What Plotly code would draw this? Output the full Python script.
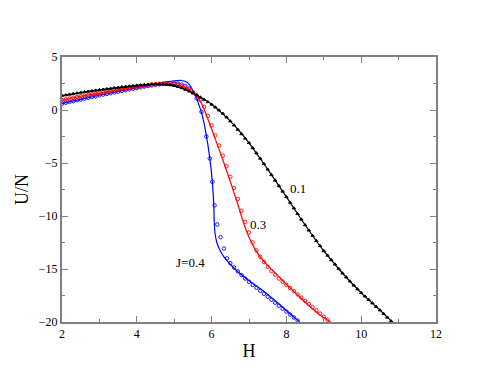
import plotly.graph_objects as go

# J = 0.1 (black)
h_line_01 = [2.0, 2.5, 3.0, 3.5, 4.0, 4.5, 5.0, 5.5, 6.0, 6.5, 7.0, 7.5, 8.0, 8.5, 9.0, 9.5, 10.0, 10.5, 10.83]
u_line_01 = [1.35, 1.65, 1.9, 2.12, 2.32, 2.45, 2.3, 1.6, 0.55, -1.05, -3.1, -5.6, -8.2, -10.85, -13.3, -15.4, -17.25, -18.88, -20.0]

h_pts_01 = [2.0, 2.1, 2.2, 2.3, 2.4, 2.5, 2.6, 2.7, 2.8, 2.9, 3.0, 3.1, 3.2, 3.3, 3.4, 3.5, 3.6, 3.7, 3.8, 3.9,
            4.0, 4.1, 4.2, 4.3, 4.4, 4.5, 4.6, 4.7, 4.8, 4.9, 5.0, 5.1, 5.2, 5.3, 5.4, 5.5, 5.6, 5.7, 5.8, 5.9,
            6.0, 6.1, 6.2, 6.3, 6.4, 6.5, 6.6, 6.7, 6.8, 6.9, 7.0, 7.1, 7.2, 7.3, 7.4, 7.5, 7.6, 7.7, 7.8, 7.9,
            8.0, 8.1, 8.2, 8.3, 8.4, 8.5, 8.6, 8.7, 8.8, 8.9, 9.0, 9.1, 9.2, 9.3, 9.4, 9.5, 9.6, 9.7, 9.8, 9.9,
            10.0, 10.1, 10.2, 10.3, 10.4, 10.5, 10.6, 10.7, 10.8]
u_pts_01 = [1.35, 1.41, 1.47, 1.53, 1.59, 1.65, 1.70, 1.75, 1.80, 1.85, 1.90, 1.94, 1.99, 2.03, 2.08, 2.12, 2.16, 2.20, 2.24, 2.28,
            2.32, 2.35, 2.38, 2.41, 2.43, 2.44, 2.44, 2.42, 2.39, 2.35, 2.29, 2.20, 2.08, 1.93, 1.77, 1.60, 1.41, 1.20, 0.98, 0.76,
            0.53, 0.26, -0.02, -0.33, -0.68, -1.05, -1.44, -1.85, -2.26, -2.68, -3.10, -3.58, -4.07, -4.57, -5.08, -5.60, -6.12, -6.64, -7.16, -7.68,
            -8.20, -8.73, -9.26, -9.79, -10.32, -10.85, -11.35, -11.85, -12.34, -12.82, -13.30, -13.72, -14.14, -14.56, -14.98, -15.40, -15.78, -16.16, -16.54, -16.90,
            -17.25, -17.58, -17.90, -18.22, -18.55, -18.88, -19.22, -19.57, -19.92]

# J = 0.3 (red)
h_line_03 = [2.0, 2.5, 3.0, 3.5, 4.0, 4.5, 4.8, 5.0, 5.3, 5.5, 5.6, 5.7, 5.8, 5.9, 6.0, 6.1, 6.3, 6.5, 6.7, 6.85,
             7.0, 7.15, 7.3, 7.5, 7.75, 8.0, 8.3, 8.6, 8.9, 9.18]
u_line_03 = [0.94, 1.3, 1.6, 1.9, 2.2, 2.45, 2.52, 2.45, 2.1, 1.65, 1.35, 0.8, 0.05, -0.85, -1.8, -2.75, -4.7, -6.75, -8.9, -10.6,
             -12.0, -13.05, -13.85, -14.65, -15.55, -16.45, -17.45, -18.45, -19.35, -20.0]

h_pts_03 = [2.0, 2.1, 2.2, 2.3, 2.4, 2.5, 2.6, 2.7, 2.8, 2.9, 3.0, 3.1, 3.2, 3.3, 3.4, 3.5, 3.6, 3.7, 3.8, 3.9,
            4.0, 4.1, 4.2, 4.3, 4.4, 4.5, 4.6, 4.7, 4.8, 4.9, 5.0, 5.1, 5.2, 5.3, 5.4, 5.5, 5.6, 5.7, 5.8, 5.9,
            6.0, 6.1, 6.2, 6.3, 6.4, 6.5, 6.6, 6.7, 6.8, 6.9, 7.0, 7.1, 7.2, 7.3, 7.4, 7.5, 7.6, 7.7, 7.8, 7.9,
            8.0, 8.1, 8.2, 8.3, 8.4, 8.5, 8.6, 8.7, 8.8, 8.9, 9.0, 9.1]
u_pts_03 = [0.94, 1.01, 1.09, 1.16, 1.23, 1.30, 1.36, 1.42, 1.48, 1.54, 1.60, 1.66, 1.72, 1.78, 1.84, 1.90, 1.96, 2.02, 2.08, 2.14,
            2.20, 2.25, 2.30, 2.35, 2.40, 2.44, 2.47, 2.49, 2.50, 2.48, 2.44, 2.36, 2.25, 2.10, 1.90, 1.66, 1.38, 0.95, 0.30, -0.55,
            -1.45, -2.40, -3.35, -4.30, -5.30, -6.30, -7.35, -8.40, -9.50, -10.55, -11.55, -12.50, -13.25, -13.85, -14.35, -14.80, -15.20, -15.55, -15.90, -16.20,
            -16.50, -16.80, -17.10, -17.40, -17.70, -18.00, -18.30, -18.60, -18.90, -19.20, -19.50, -19.80]

# J = 0.4 (blue)
h_line_04 = [2.0, 2.5, 3.0, 3.5, 4.0, 4.5, 4.8, 5.0, 5.2, 5.35, 5.45, 5.55, 5.65, 5.75, 5.85, 5.95, 6.02, 6.06, 6.07, 6.09,
             6.14, 6.22, 6.34, 6.65, 7.0, 7.36, 7.8, 8.35]
u_line_04 = [0.63, 1.0, 1.4, 1.75, 2.1, 2.45, 2.65, 2.75, 2.78, 2.6, 2.15, 1.5, 0.6, -0.5, -2.2, -4.5, -6.8, -9.1, -10.5, -11.6,
             -12.5, -13.2, -13.9, -15.1, -16.1, -17.0, -18.3, -20.0]

h_pts_04 = [2.0, 2.1, 2.2, 2.3, 2.4, 2.5, 2.6, 2.7, 2.8, 2.9, 3.0, 3.1, 3.2, 3.3, 3.4, 3.5, 3.6, 3.7, 3.8, 3.9,
            4.0, 4.1, 4.2, 4.3, 4.4, 4.5, 4.6, 4.7, 4.8, 4.9, 5.0, 5.1, 5.2, 5.3, 5.4, 5.5,
            5.6, 5.73, 5.86, 5.95, 6.02, 6.08, 6.15, 6.24, 6.33, 6.41,
            6.5, 6.6, 6.7, 6.8, 6.9, 7.0, 7.1, 7.2, 7.3, 7.4, 7.5, 7.6, 7.7, 7.8, 7.9, 8.0, 8.1, 8.2, 8.3]
u_pts_04 = [0.60, 0.68, 0.76, 0.84, 0.92, 0.99, 1.07, 1.15, 1.23, 1.30, 1.38, 1.45, 1.52, 1.59, 1.66, 1.73, 1.80, 1.87, 1.94, 2.01,
            2.08, 2.14, 2.20, 2.26, 2.32, 2.37, 2.42, 2.46, 2.49, 2.51, 2.51, 2.48, 2.40, 2.25, 2.02, 1.65,
            1.1, -0.17, -2.5, -4.57, -6.77, -9.0, -10.8, -12.0, -13.07, -14.0,
            -14.45, -14.85, -15.22, -15.57, -15.9, -16.2, -16.5, -16.78, -17.06, -17.34, -17.62, -17.9, -18.18, -18.46, -18.74, -19.02, -19.3, -19.58, -19.86]

label_text = ["0.1", "0.3", "J=0.4"]
label_h = [8.31, 7.25, 5.43]
label_u = [-7.37, -10.77, -14.36]

serif = "'Liberation Serif', 'Times New Roman', serif"
axis_grey = "#7f7f7f"

fig = go.Figure()

series = [
    (h_line_04, u_line_04, h_pts_04, u_pts_04, "blue", "circle-open", 3.5),
    (h_line_03, u_line_03, h_pts_03, u_pts_03, "red", "circle-open", 3.5),
    (h_line_01, u_line_01, h_pts_01, u_pts_01, "black", "triangle-up", 3),
]
for hl, ul, hp, up, col, sym, sz in series:
    fig.add_trace(go.Scatter(x=hl, y=ul, mode="lines",
                             line=dict(color=col, width=1.2, shape="spline", smoothing=0.5),
                             showlegend=False, hoverinfo="skip"))
    fig.add_trace(go.Scatter(x=hp, y=up, mode="markers",
                             marker=dict(color=col, size=sz, symbol=sym, line=dict(color=col, width=0.9)),
                             showlegend=False, hoverinfo="skip"))

for t, hx, uy in zip(label_text, label_h, label_u):
    fig.add_annotation(x=hx, y=uy, text=t, showarrow=False,
                       font=dict(family=serif, size=13, color="black"))

axis_common = dict(
    showgrid=False, zeroline=False, showline=True, linecolor=axis_grey, linewidth=2,
    mirror="allticks", ticks="inside", ticklen=6, tickwidth=1, tickcolor=axis_grey,
    tickfont=dict(family=serif, size=12, color="black"),
)

fig.update_xaxes(range=[2, 12], dtick=2, tick0=2,
                 minor=dict(ticks="inside", ticklen=3, dtick=1, tickcolor=axis_grey),
                 title=dict(text="H", font=dict(family=serif, size=18, color="black"), standoff=4),
                 **axis_common)
fig.update_yaxes(range=[-20, 5], dtick=5, tick0=0,
                 minor=dict(ticks="inside", ticklen=3, dtick=2.5, tickcolor=axis_grey),
                 title=dict(text="U/N", font=dict(family=serif, size=18, color="black"), standoff=6),
                 **axis_common)

# page body has an 8px margin, so the figure is trimmed to keep the plot box in place
fig.update_layout(width=483, height=371, margin=dict(l=49, r=55, t=49, b=57),
                  plot_bgcolor="white", paper_bgcolor="white")

fig.write_html("out.html")
